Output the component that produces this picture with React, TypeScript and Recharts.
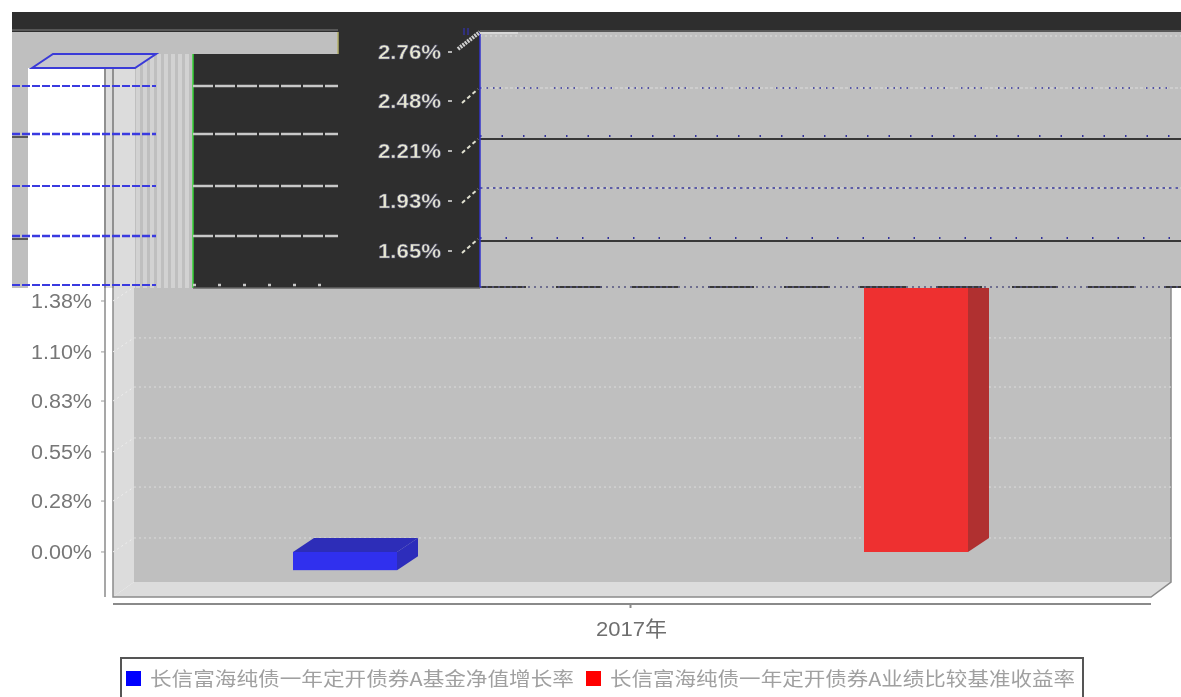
import React from 'react';
import { Bar, BarChart, CartesianGrid, Legend, XAxis, YAxis } from 'recharts';

const categories = ['2017年'];
const seriesNames = ['长信富海纯债一年定开债券A基金净值增长率', '长信富海纯债一年定开债券A业绩比较基准收益率'];
const navGrowth = [-0.1];
const benchmark = [2.66];
const yTicks = [0, 0.28, 0.55, 0.83, 1.1, 1.38, 1.66, 1.93, 2.21, 2.48, 2.76];
const upperTicks = ['2.76%', '2.48%', '2.21%', '1.93%', '1.65%'];
const upperTickY = [52, 101, 151, 201, 251];

const data = categories.map((name, i) => ({ name, nav: navGrowth[i], bench: benchmark[i] }));

const DX = 21;
const DY = 14;
const GRAY = '#bfbfbf';
const LIGHT = '#dcdcdc';

// bar with a fake 3D top and side
const bar3d = (front: string, top: string, side: string) => (props: any) => {
  const { x, y, width, height } = props;
  const t = Math.min(y, y + height);
  const h = Math.abs(height);
  const r = x + width;
  return (
    <g>
      <polygon points={`${x},${t} ${x + DX},${t - DY} ${r + DX},${t - DY} ${r},${t}`} fill={top} />
      <polygon points={`${r},${t} ${r + DX},${t - DY} ${r + DX},${t + h - DY} ${r},${t + h}`} fill={side} />
      <rect x={x} y={t} width={width} height={h} fill={front} />
    </g>
  );
};
const blueBar = bar3d('#3030ee', '#2d2db8', '#2d2dbb');
const redBar = bar3d('#ee3030', '#c02c2c', '#b03030');

const YTick = (props: any) => (
  <g>
    <line x1={101} x2={105} y1={props.y} y2={props.y} stroke="#999" />
    <text x={92} y={props.y + 7} textAnchor="end" fontFamily="Liberation Sans" fontSize={20} fill="#777"
      textLength={61} lengthAdjust="spacingAndGlyphs">
      {props.payload.value.toFixed(2)}%
    </text>
  </g>
);

const XTick = (props: any) => (
  <text x={props.x + 1} y={636} textAnchor="middle" fontFamily="Liberation Sans, Noto Sans CJK SC" fontSize={21} fill="#6e6e6e"
    textLength={71} lengthAdjust="spacingAndGlyphs">
    {props.payload.value}
  </text>
);

const gridLine = (props: any) => (
  <g key={props.key}>
    <line x1={134} x2={1171} y1={props.y1 - DY} y2={props.y2 - DY} stroke={LIGHT} strokeDasharray="2 3" />
    <line x1={113} x2={134} y1={props.y1} y2={props.y2 - DY} stroke="#eeeeee" strokeDasharray="2 3" />
  </g>
);

const LegendBox = (props: any) => {
  const items = props.payload || [];
  const slots = [
    { sw: 6, tx: 30, len: 424 },
    { sw: 466, tx: 490, len: 465 },
  ];
  return (
    <svg width={964} height={40} style={{ display: 'block' }}>
      <rect x={1} y={1} width={962} height={44} fill="#fff" stroke="#555" strokeWidth={2} />
      {items.map((it: any, i: number) => (
        <g key={it.value}>
          <rect x={slots[i].sw} y={14} width={15} height={15} fill={it.color} />
          <text x={slots[i].tx} y={29} fontFamily="Noto Sans CJK SC" fontSize={19} fill="#a0a0a0"
            textLength={slots[i].len} lengthAdjust="spacingAndGlyphs">
            {it.value}
          </text>
        </g>
      ))}
    </svg>
  );
};

// walls and floor of the fake 3D box, sits under the chart
const Box3d = () => (
  <svg width={1181} height={697} style={{ position: 'absolute', left: 0, top: 0 }}>
    <rect x={134} y={36} width={1037} height={546} fill={GRAY} />
    <polygon points="113,50 134,36 134,582 113,597" fill={LIGHT} />
    <polygon points="134,582 1171,582 1151,597 113,597" fill={LIGHT} />
    <polyline points="1171,36 1171,582 1151,597 113,597 113,50" fill="none" stroke="#8a8a8a" strokeWidth={1.5} />
    <line x1={105} x2={105} y1={50} y2={597} stroke="#8a8a8a" strokeWidth={1.5} />
  </svg>
);

// the broken block of pixels across the top of the source image
const stripes = [136, 143, 150, 157, 164, 171, 178, 185];
const leftDash = [86, 134, 186, 236, 285];
const Glitch = () => (
  <svg width={1181} height={697} style={{ position: 'absolute', left: 0, top: 0 }}>
    <rect x={12} y={12} width={1169} height={276} fill="#2e2e2e" />
    <rect x={12} y={32} width={326} height={22} fill={GRAY} />
    <line x1={338} x2={338} y1={32} y2={54} stroke="#b5b06a" strokeWidth={1.5} />
    <rect x={12} y={54} width={181} height={234} fill={GRAY} />
    <rect x={28} y={68} width={76} height={220} fill="#ffffff" />
    <rect x={105} y={68} width={30} height={220} fill={LIGHT} />
    {stripes.map((x) => (
      <rect key={x} x={x} y={54} width={4} height={234} fill="#d2d2d2" />
    ))}
    <rect x={104} y={68} width={2} height={220} fill="#909090" />
    <rect x={112} y={68} width={2} height={220} fill="#909090" />
    <polygon points="32,68 53,54 156,54 135,68" fill="#c6c6ce" stroke="#3a3ad8" strokeWidth={2} />
    <line x1={193} x2={193} y1={54} y2={288} stroke="#35d435" strokeWidth={1.5} />
    {leftDash.map((y, i) => (
      <g key={y}>
        <line x1={12} x2={156} y1={y} y2={y} stroke="#3a3ae0" strokeWidth={i % 2 ? 2.5 : 2} strokeDasharray="8 2" />
        <line x1={193} x2={338} y1={y} y2={y} stroke="#c8c8c8" strokeWidth={2.5} strokeDasharray={y === 285 ? '3 22' : '20 2'} />
      </g>
    ))}
    <line x1={12} x2={28} y1={137} y2={137} stroke="#333" strokeWidth={1.5} />
    <line x1={12} x2={28} y1={239} y2={239} stroke="#333" strokeWidth={1.5} />
    <line x1={12} x2={338} y1={30} y2={30} stroke="#666" strokeWidth={1.5} />

    <rect x={480} y={32} width={701} height={256} fill={GRAY} />
    <line x1={480} x2={1181} y1={31} y2={31} stroke="#666" strokeWidth={1.5} />
    <line x1={480} x2={1181} y1={36} y2={36} stroke={LIGHT} strokeDasharray="2 3" />
    <line x1={480} x2={1181} y1={88} y2={88} stroke={LIGHT} strokeDasharray="3 2" />
    <line x1={480} x2={1181} y1={88} y2={88} stroke="#30309a" strokeWidth={1.5} strokeDasharray="1.5 5 1.5 5 1.5 5 1.5 16" />
    <line x1={480} x2={1181} y1={139} y2={139} stroke="#383838" strokeWidth={2} />
    <line x1={480} x2={1181} y1={136} y2={136} stroke="#30309a" strokeWidth={2} strokeDasharray="1.5 20" />
    <line x1={480} x2={1181} y1={188} y2={188} stroke={LIGHT} strokeDasharray="3 2" />
    <line x1={480} x2={1181} y1={188} y2={188} stroke="#38389a" strokeWidth={1.5} strokeDasharray="2.5 4" />
    <line x1={480} x2={1181} y1={241} y2={241} stroke="#383838" strokeWidth={2} />
    <line x1={480} x2={1181} y1={238} y2={238} stroke="#30309a" strokeWidth={2} strokeDasharray="1.5 24" />
    <line x1={480} x2={1181} y1={287} y2={287} stroke="#383838" strokeWidth={2} strokeDasharray="46 30" />
    <line x1={480} x2={1181} y1={287} y2={287} stroke="#555580" strokeWidth={1.5} strokeDasharray="2 4" />
    <line x1={480} x2={480} y1={32} y2={288} stroke="#3333cc" strokeWidth={1.5} />
    <line x1={193} x2={480} y1={288} y2={288} stroke="#666" strokeWidth={1.5} />
    <line x1={518} x2={480} y1={33} y2={33} stroke="#d8d8d8" strokeWidth={2} />

    <line x1={458} x2={480} y1={49} y2={32} stroke="#d0d0d0" strokeWidth={4} strokeDasharray="2 1" />
    <line x1={464} x2={464} y1={28} y2={35} stroke="#3333cc" />
    <line x1={468} x2={468} y1={28} y2={35} stroke="#3333cc" />
    {upperTicks.map((t, i) => (
      <g key={t}>
        <text x={441} y={upperTickY[i] + 7} textAnchor="end" fontFamily="Liberation Sans" fontWeight="bold" fontSize={20}
          fill="#e8e8d2" stroke="#55557a" strokeWidth={0.5} textLength={63} lengthAdjust="spacingAndGlyphs">
          {t}
        </text>
        <line x1={448} x2={452} y1={upperTickY[i]} y2={upperTickY[i]} stroke="#e0e0e0" strokeWidth={1.5} />
        {i > 0 && (
          <line x1={462} x2={478} y1={upperTickY[i] + 2} y2={upperTickY[i] - 12} stroke="#e0e0d0" strokeWidth={2} strokeDasharray="4 3" />
        )}
      </g>
    ))}
  </svg>
);

export default function App() {
  return (
    <div style={{ position: 'absolute', left: 0, top: 0, width: 1181, height: 697, overflow: 'hidden', background: '#fff', filter: 'blur(0.6px)' }}>
      <Box3d />
      <BarChart
        width={1181}
        height={697}
        data={data}
        barSize={104}
        barGap={467}
        margin={{ top: 50, right: 30, bottom: 13, left: 0 }}
        style={{ position: 'absolute', left: 0, top: 0 }}
      >
        <CartesianGrid vertical={false} horizontal={gridLine} syncWithTicks />
        <XAxis
          dataKey="name"
          height={40}
          padding={{ left: 0, right: 3 }}
          stroke="#8a8a8a"
          strokeWidth={2}
          tickSize={4}
          tick={XTick}
        />
        <YAxis
          width={113}
          domain={[-0.286, 2.76]}
          ticks={yTicks}
          allowDataOverflow
          axisLine={false}
          tickLine={false}
          tick={YTick}
        />
        <Legend
          content={LegendBox}
          itemSorter={null}
          wrapperStyle={{ left: 120, top: 657, bottom: 'auto', width: 964, height: 40 }}
        />
        <Bar dataKey="nav" name={seriesNames[0]} fill="#0000ff" shape={blueBar} isAnimationActive={false} />
        <Bar dataKey="bench" name={seriesNames[1]} fill="#ff0000" shape={redBar} isAnimationActive={false} />
      </BarChart>
      <Glitch />
    </div>
  );
}
